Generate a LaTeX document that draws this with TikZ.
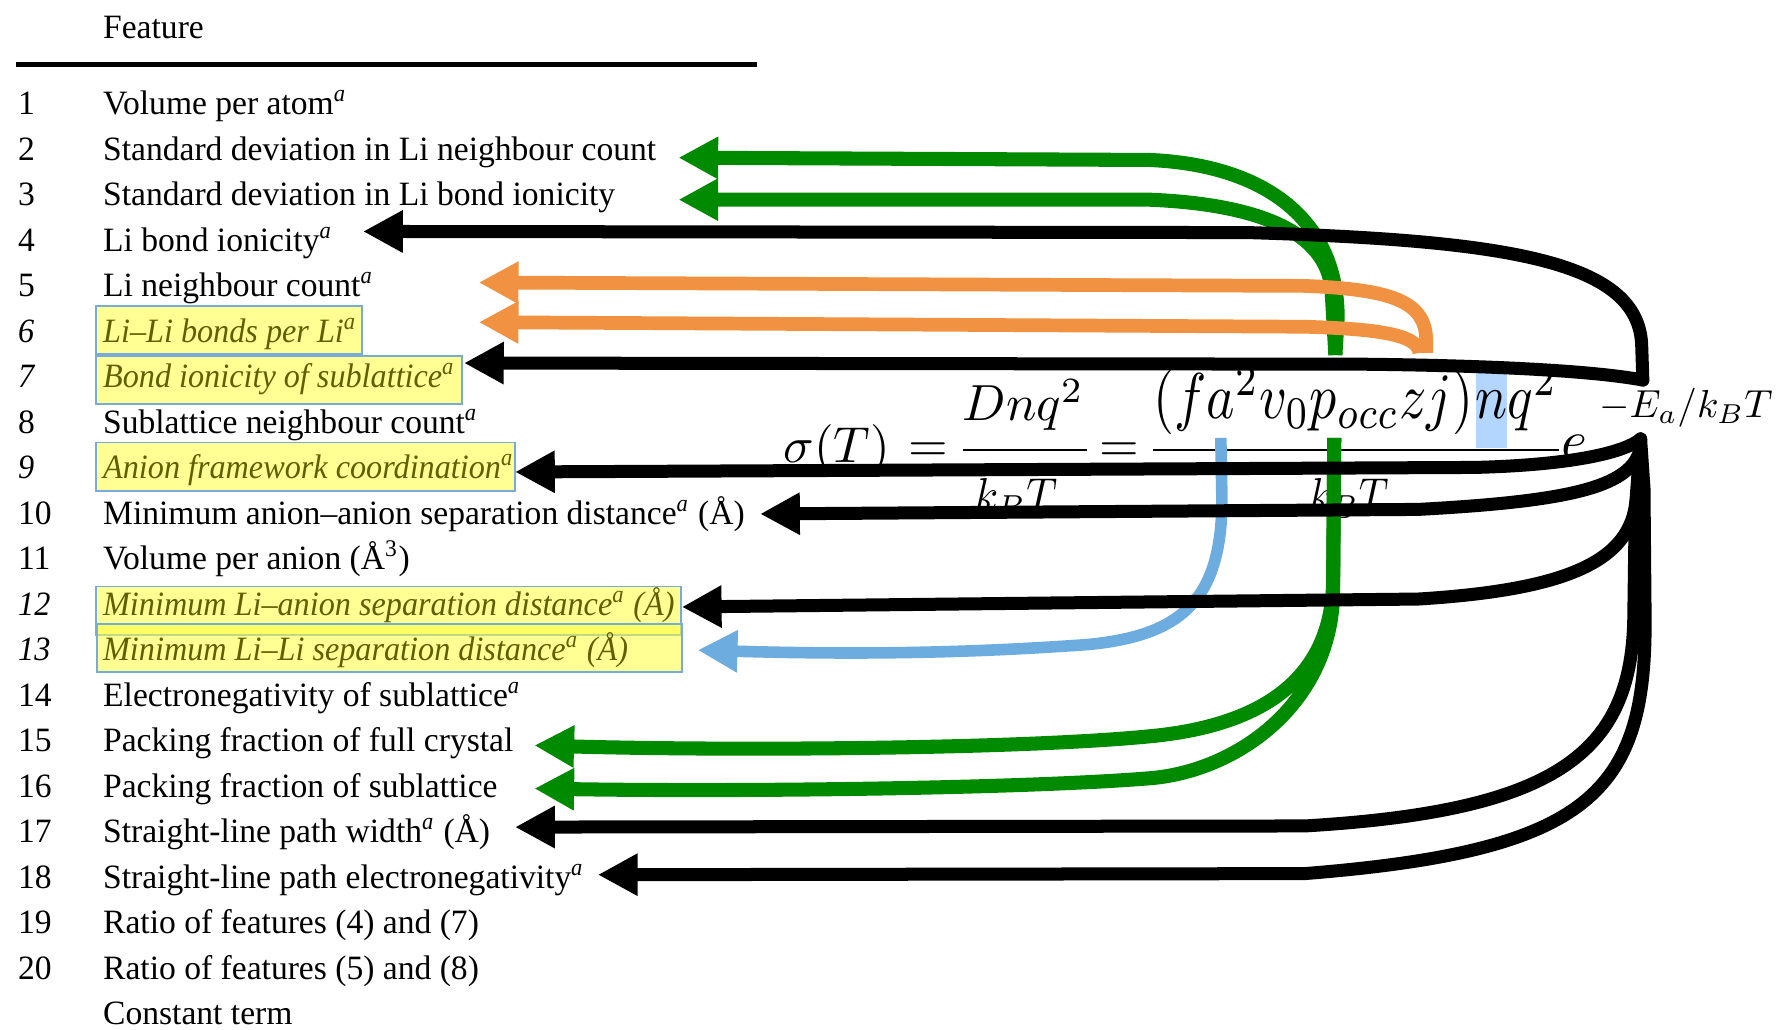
\documentclass[tikz,border=0pt]{standalone}
\usepackage{fontspec}
\setmainfont{Liberation Serif}[UprightFeatures={FakeStretch=0.985}, ItalicFeatures={FakeStretch=0.945}]
\usepackage{graphicx}
\usetikzlibrary{arrows.meta}

\definecolor{arrgreen}{RGB}{0,138,0}
\definecolor{arrorange}{RGB}{241,146,66}
\definecolor{arrblue}{RGB}{108,172,222}
\definecolor{hlfill}{RGB}{255,255,60}
\definecolor{hlborder}{RGB}{120,170,220}
\definecolor{hltext}{RGB}{95,95,0}
\definecolor{nshade}{RGB}{178,214,255}

\newcommand\fnA{\textsuperscript{\textit{a}}}

\begin{document}
\begin{tikzpicture}[x=0.11346mm, y=-0.11346mm,
  num/.style={anchor=base west, inner sep=0pt, font=\fontsize{9.7pt}{11pt}\selectfont},
  numit/.style={num, font=\fontsize{9.7pt}{11pt}\selectfont\itshape},
  feat/.style={anchor=base west, inner sep=0pt, font=\fontsize{9.7pt}{11pt}\selectfont},
  featit/.style={feat, font=\fontsize{9.7pt}{11pt}\selectfont\itshape, text=hltext},
  hlbox/.style={fill=hlfill, fill opacity=0.55, draw=hlborder, line width=0.5pt},
  eqn/.style={inner sep=0pt},
  tipshape/.style={-{Triangle[length=11.3pt,width=11.3pt]}},
  gline/.style={draw=arrgreen, line width=4pt, tipshape},
  oline/.style={draw=arrorange, line width=3.9pt, tipshape},
  bline/.style={draw=arrblue, line width=3.3pt, tipshape},
  kline/.style={draw=black, line width=3.7pt, line cap=round, tipshape},
]
\useasboundingbox (0,0) rectangle (1568,907);
\fill[white] (0,0) rectangle (1568,907);

% highlighted rows
\path[hlbox] (84.5,270) rectangle (319,312);
\path[hlbox] (84.5,314) rectangle (407,356);
\path[hlbox] (84.5,390) rectangle (454,433);
\path[hlbox] (84.5,517) rectangle (600,560);
\path[hlbox] (85.5,550) rectangle (601,592);

% table header
\node[feat] (hdr) at (90.3,34) {Feature};
\draw[line width=1.4pt] (14.5,56.7) -- (667,56.7);

% feature list
\node[num] (n1) at (15.4,101) {1};
\node[feat] (r1) at (90.3,101) {Volume per atom\fnA};
\node[num] (n2) at (15.4,141.1) {2};
\node[feat] (r2) at (90.3,141.1) {Standard deviation in Li neighbour count};
\node[num] (n3) at (15.4,181.2) {3};
\node[feat] (r3) at (90.3,181.2) {Standard deviation in Li bond ionicity};
\node[num] (n4) at (15.4,221.3) {4};
\node[feat] (r4) at (90.3,221.3) {Li bond ionicity\fnA};
\node[num] (n5) at (15.4,261.4) {5};
\node[feat] (r5) at (90.3,261.4) {Li neighbour count\fnA};
\node[numit] (n6) at (15.4,301.5) {6};
\node[featit] (r6) at (90.3,301.5) {Li–Li bonds per Li\fnA};
\node[numit] (n7) at (15.4,341.6) {7};
\node[featit] (r7) at (90.3,341.6) {Bond ionicity of sublattice\fnA};
\node[num] (n8) at (15.4,381.7) {8};
\node[feat] (r8) at (90.3,381.7) {Sublattice neighbour count\fnA};
\node[numit] (n9) at (15.4,421.8) {9};
\node[featit] (r9) at (90.3,421.8) {Anion framework coordination\fnA};
\node[num] (n10) at (15.4,461.9) {10};
\node[feat] (r10) at (90.3,461.9) {Minimum anion–anion separation distance\fnA{} (Å)};
\node[num] (n11) at (15.4,502) {11};
\node[feat] (r11) at (90.3,502) {Volume per anion (Å\textsuperscript{3})};
\node[numit] (n12) at (15.4,542.1) {12};
\node[featit] (r12) at (90.3,542.1) {Minimum Li–anion separation distance\fnA{} (Å)};
\node[numit] (n13) at (15.4,582.2) {13};
\node[featit] (r13) at (90.3,582.2) {Minimum Li–Li separation distance\fnA{} (Å)};
\node[num] (n14) at (15.4,622.3) {14};
\node[feat] (r14) at (90.3,622.3) {Electronegativity of sublattice\fnA};
\node[num] (n15) at (15.4,662.4) {15};
\node[feat] (r15) at (90.3,662.4) {Packing fraction of full crystal};
\node[num] (n16) at (15.4,702.5) {16};
\node[feat] (r16) at (90.3,702.5) {Packing fraction of sublattice};
\node[num] (n17) at (15.4,742.6) {17};
\node[feat] (r17) at (90.3,742.6) {Straight-line path width\fnA{} (Å)};
\node[num] (n18) at (15.4,782.7) {18};
\node[feat] (r18) at (90.3,782.7) {Straight-line path electronegativity\fnA};
\node[num] (n19) at (15.4,822.8) {19};
\node[feat] (r19) at (90.3,822.8) {Ratio of features (4) and (7)};
\node[num] (n20) at (15.4,862.9) {20};
\node[feat] (r20) at (90.3,862.9) {Ratio of features (5) and (8)};
\node[feat] (r21) at (90.3,903) {Constant term};

% conductivity equation
\fill[nshade] (1301,328) rectangle (1328,395);
\node[eqn, anchor=base west] (sig) at (690,408) {\resizebox{30.3pt}{!}{$\sigma(T)$}};
\node[eqn, anchor=base] (eqa) at (818.5,407) {\scalebox{1.45}{$=$}};
\node[eqn, anchor=base] (num1) at (902,371) {\resizebox{34.5pt}{!}{$Dnq^2$}};
\draw[line width=0.75pt] (849,396.7) -- (958,396.7);
\node[eqn, anchor=base] (den1) at (895.5,451) {\resizebox{23.5pt}{9.4pt}{$k_BT$}};
\node[eqn, anchor=base] (eqb) at (986.5,407) {\scalebox{1.45}{$=$}};
\node[eqn, anchor=base west] (num2a) at (1016,369) {\scalebox{1}[1.2]{\resizebox{91pt}{!}{$(fa^2v_0p_{occ}zj)$}}};
\node[eqn, anchor=base west] (num2b) at (1300,369) {\scalebox{1}[1.2]{\resizebox{23.2pt}{!}{$nq^2$}}};
\draw[line width=0.75pt] (1016,396.7) -- (1374,396.7);
\node[eqn, anchor=base] (den2) at (1189,451) {\resizebox{22.6pt}{9.4pt}{$k_BT$}};
\node[eqn, anchor=base west] (eexp) at (1376,405) {\scalebox{1.6}{$e$}};
\node[eqn, anchor=base west] (expo) at (1409,368) {\resizebox{49.3pt}{!}{$-E_a/k_BT$}};

% line ends at the equation terms
\coordinate (ptop) at (1177,313);
\coordinate (pbot) at (1176,386);
\coordinate (abot) at (1076,386);
\coordinate (z5) at (1257,311);
\coordinate (z6) at (1251,311);
\coordinate (Etop) at (1448,335);
\coordinate (Ebot) at (1446,387);

% arrow tips beside the features
\coordinate (t2) at (598,139);
\coordinate (t3) at (598,176);
\coordinate (t4) at (320,204);
\coordinate (t5) at (422,249);
\coordinate (t6) at (422,284);
\coordinate (t7) at (409,320);
\coordinate (t9) at (454,416);
\coordinate (t10) at (670,453);
\coordinate (t12) at (601,535);
\coordinate (t13) at (615,573);
\coordinate (t15) at (471,657);
\coordinate (t16) at (471,695);
\coordinate (t17) at (454,729);
\coordinate (t18) at (527,771);

% occupancy term
\draw[gline] (ptop) -- (1179,280) .. controls (1179,190) and (1110,145) .. (1013,141) -- (t2);
\draw[gline] (ptop) -- (1174,262) .. controls (1174,205) and (1110,180) .. (1013,176) -- (t3);
\draw[gline] (pbot) -- (1175,510) .. controls (1175,600) and (1110,640) .. (1013,649) .. controls (900,660) and (650,662) .. (t15);
\draw[gline] (pbot) -- (1175,520) .. controls (1175,620) and (1090,680) .. (1013,686) .. controls (900,695) and (650,698) .. (t16);

% coordination term
\draw[oline] (z5) -- (1257,300) .. controls (1257,265) and (1225,255) .. (1150,252) -- (t5);
\draw[oline] (z6) .. controls (1250,296) and (1220,290) .. (1150,288) -- (t6);

% jump distance term
\draw[bline] (abot) -- (1077,440) .. controls (1077,530) and (1040,560) .. (960,568) .. controls (850,576) and (750,577) .. (t13);

% activation energy
\draw[kline] (Etop) -- (1447,305) .. controls (1445,230) and (1330,212) .. (1100,205) -- (t4);
\draw[kline] (Etop) .. controls (1400,326) and (1300,322) .. (1200,321) -- (t7);
\draw[kline] (Ebot) .. controls (1430,400) and (1380,410) .. (1300,412) -- (t9);
\draw[kline] (Ebot) -- (1445,398) .. controls (1435,430) and (1380,442) .. (1250,449) -- (t10);
\draw[kline] (Ebot) -- (1442,440) .. controls (1438,495) and (1380,520) .. (1250,528) -- (t12);
\draw[kline] (Ebot) -- (1441,470) -- (1440,545) .. controls (1438,665) and (1370,715) .. (1150,728) -- (t17);
\draw[kline] (Ebot) -- (1449,430) -- (1450,545) .. controls (1451,700) and (1400,750) .. (1150,770) -- (t18);
\end{tikzpicture}
\end{document}
